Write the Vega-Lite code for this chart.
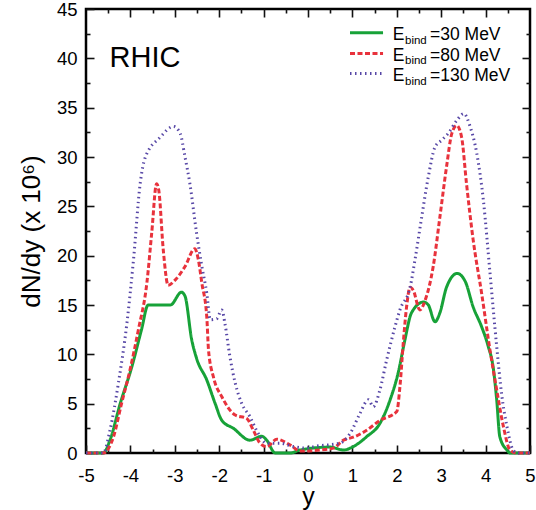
{
  "$schema": "https://vega.github.io/schema/vega-lite/v6.json",
  "width": 444,
  "height": 444,
  "autosize": {"type": "none"},
  "padding": {"left": 86, "top": 9, "right": 6, "bottom": 57},
  "config": {
    "view": {"stroke": "black", "strokeWidth": 2.5},
    "font": "Liberation Sans",
    "axis": {"grid": false, "domain": false, "labelColor": "black", "labelFont": "Liberation Sans", "titleFont": "Liberation Sans", "titleFontWeight": "normal", "titleColor": "black", "labelFlush": false, "labelOverlap": false}
  },
  "datasets": {
    "curves": [
      {"s": "30", "x": -5.0, "y": 0}, {"s": "30", "x": -4.61, "y": 0}, {"s": "30", "x": -4.46, "y": 1.3}, {"s": "30", "x": -4.23, "y": 5.0}, {"s": "30", "x": -3.97, "y": 8.7}, {"s": "30", "x": -3.75, "y": 12.5}, {"s": "30", "x": -3.6, "y": 15.0}, {"s": "30", "x": -3.37, "y": 15.0}, {"s": "30", "x": -3.1, "y": 15.0}, {"s": "30", "x": -2.85, "y": 16.3}, {"s": "30", "x": -2.77, "y": 15.9}, {"s": "30", "x": -2.62, "y": 11.5}, {"s": "30", "x": -2.51, "y": 9.6}, {"s": "30", "x": -2.28, "y": 7.4}, {"s": "30", "x": -2.09, "y": 5.0}, {"s": "30", "x": -1.94, "y": 3.3}, {"s": "30", "x": -1.68, "y": 2.5}, {"s": "30", "x": -1.31, "y": 1.3}, {"s": "30", "x": -1.04, "y": 1.7}, {"s": "30", "x": -0.93, "y": 1.3}, {"s": "30", "x": -0.74, "y": 0}, {"s": "30", "x": -0.4, "y": 0}, {"s": "30", "x": -0.18, "y": 0.3}, {"s": "30", "x": 0.5, "y": 0.6}, {"s": "30", "x": 0.8, "y": 0.3}, {"s": "30", "x": 1.02, "y": 0.65}, {"s": "30", "x": 1.32, "y": 1.65}, {"s": "30", "x": 1.62, "y": 3.0}, {"s": "30", "x": 1.85, "y": 5.4}, {"s": "30", "x": 2.03, "y": 8.1}, {"s": "30", "x": 2.18, "y": 11.4}, {"s": "30", "x": 2.33, "y": 14.2}, {"s": "30", "x": 2.6, "y": 15.3}, {"s": "30", "x": 2.71, "y": 15.0}, {"s": "30", "x": 2.86, "y": 13.3}, {"s": "30", "x": 2.97, "y": 14.2}, {"s": "30", "x": 3.12, "y": 16.8}, {"s": "30", "x": 3.36, "y": 18.2}, {"s": "30", "x": 3.54, "y": 17.4}, {"s": "30", "x": 3.72, "y": 14.8}, {"s": "30", "x": 3.91, "y": 12.8}, {"s": "30", "x": 4.06, "y": 10.8}, {"s": "30", "x": 4.17, "y": 8.7}, {"s": "30", "x": 4.25, "y": 5.4}, {"s": "30", "x": 4.32, "y": 1.65}, {"s": "30", "x": 4.48, "y": 0.3}, {"s": "30", "x": 4.55, "y": 0}, {"s": "30", "x": 5.0, "y": 0},

      {"s": "80", "x": -5.0, "y": 0}, {"s": "80", "x": -4.61, "y": 0}, {"s": "80", "x": -4.38, "y": 1.65}, {"s": "80", "x": -4.2, "y": 5.0}, {"s": "80", "x": -4.01, "y": 8.4}, {"s": "80", "x": -3.82, "y": 12.5}, {"s": "80", "x": -3.63, "y": 17.2}, {"s": "80", "x": -3.52, "y": 22.3}, {"s": "80", "x": -3.41, "y": 27.3}, {"s": "80", "x": -3.36, "y": 26.6}, {"s": "80", "x": -3.26, "y": 20.6}, {"s": "80", "x": -3.15, "y": 17.0}, {"s": "80", "x": -3.0, "y": 17.5}, {"s": "80", "x": -2.77, "y": 18.9}, {"s": "80", "x": -2.55, "y": 20.7}, {"s": "80", "x": -2.47, "y": 19.6}, {"s": "80", "x": -2.39, "y": 17.2}, {"s": "80", "x": -2.28, "y": 13.8}, {"s": "80", "x": -2.24, "y": 10.4}, {"s": "80", "x": -2.13, "y": 7.7}, {"s": "80", "x": -1.94, "y": 5.7}, {"s": "80", "x": -1.64, "y": 3.85}, {"s": "80", "x": -1.38, "y": 3.5}, {"s": "80", "x": -1.23, "y": 2.3}, {"s": "80", "x": -1.08, "y": 1.0}, {"s": "80", "x": -0.93, "y": 0.65}, {"s": "80", "x": -0.7, "y": 1.4}, {"s": "80", "x": -0.4, "y": 0.8}, {"s": "80", "x": -0.18, "y": 0.2}, {"s": "80", "x": 0.27, "y": 0.3}, {"s": "80", "x": 0.57, "y": 0.5}, {"s": "80", "x": 0.8, "y": 1.3}, {"s": "80", "x": 1.02, "y": 1.6}, {"s": "80", "x": 1.32, "y": 2.3}, {"s": "80", "x": 1.62, "y": 3.3}, {"s": "80", "x": 2.0, "y": 4.2}, {"s": "80", "x": 2.07, "y": 6.7}, {"s": "80", "x": 2.15, "y": 11.4}, {"s": "80", "x": 2.22, "y": 14.8}, {"s": "80", "x": 2.3, "y": 16.8}, {"s": "80", "x": 2.37, "y": 16.5}, {"s": "80", "x": 2.52, "y": 14.5}, {"s": "80", "x": 2.64, "y": 15.5}, {"s": "80", "x": 2.82, "y": 18.9}, {"s": "80", "x": 2.97, "y": 23.9}, {"s": "80", "x": 3.12, "y": 29.0}, {"s": "80", "x": 3.24, "y": 32.4}, {"s": "80", "x": 3.35, "y": 33.2}, {"s": "80", "x": 3.46, "y": 32.0}, {"s": "80", "x": 3.57, "y": 27.3}, {"s": "80", "x": 3.72, "y": 21.6}, {"s": "80", "x": 3.91, "y": 16.2}, {"s": "80", "x": 4.1, "y": 10.4}, {"s": "80", "x": 4.25, "y": 6.4}, {"s": "80", "x": 4.4, "y": 2.7}, {"s": "80", "x": 4.55, "y": 0.3}, {"s": "80", "x": 4.7, "y": 0}, {"s": "80", "x": 5.0, "y": 0},

      {"s": "130", "x": -5.0, "y": 0}, {"s": "130", "x": -4.61, "y": 0}, {"s": "130", "x": -4.46, "y": 2.3}, {"s": "130", "x": -4.27, "y": 7.1}, {"s": "130", "x": -4.08, "y": 13.1}, {"s": "130", "x": -3.93, "y": 19.6}, {"s": "130", "x": -3.78, "y": 27.3}, {"s": "130", "x": -3.67, "y": 29.9}, {"s": "130", "x": -3.33, "y": 32.0}, {"s": "130", "x": -3.03, "y": 33.1}, {"s": "130", "x": -2.88, "y": 32.4}, {"s": "130", "x": -2.77, "y": 30.0}, {"s": "130", "x": -2.66, "y": 27.3}, {"s": "130", "x": -2.51, "y": 22.3}, {"s": "130", "x": -2.39, "y": 18.9}, {"s": "130", "x": -2.28, "y": 16.2}, {"s": "130", "x": -2.2, "y": 13.5}, {"s": "130", "x": -2.06, "y": 13.6}, {"s": "130", "x": -1.94, "y": 14.5}, {"s": "130", "x": -1.87, "y": 13.1}, {"s": "130", "x": -1.76, "y": 9.8}, {"s": "130", "x": -1.64, "y": 7.1}, {"s": "130", "x": -1.49, "y": 5.0}, {"s": "130", "x": -1.31, "y": 3.7}, {"s": "130", "x": -1.16, "y": 2.3}, {"s": "130", "x": -0.93, "y": 1.0}, {"s": "130", "x": -0.63, "y": 1.0}, {"s": "130", "x": -0.33, "y": 0.65}, {"s": "130", "x": -0.05, "y": 0.5}, {"s": "130", "x": 0.2, "y": 0.7}, {"s": "130", "x": 0.72, "y": 1.0}, {"s": "130", "x": 0.95, "y": 2.0}, {"s": "130", "x": 1.17, "y": 4.0}, {"s": "130", "x": 1.36, "y": 5.4}, {"s": "130", "x": 1.47, "y": 4.7}, {"s": "130", "x": 1.62, "y": 6.4}, {"s": "130", "x": 1.77, "y": 9.4}, {"s": "130", "x": 1.96, "y": 12.8}, {"s": "130", "x": 2.07, "y": 14.5}, {"s": "130", "x": 2.3, "y": 16.8}, {"s": "130", "x": 2.41, "y": 19.6}, {"s": "130", "x": 2.56, "y": 23.9}, {"s": "130", "x": 2.71, "y": 28.0}, {"s": "130", "x": 2.86, "y": 31.0}, {"s": "130", "x": 3.01, "y": 31.7}, {"s": "130", "x": 3.16, "y": 32.4}, {"s": "130", "x": 3.35, "y": 33.7}, {"s": "130", "x": 3.51, "y": 34.4}, {"s": "130", "x": 3.65, "y": 33.1}, {"s": "130", "x": 3.8, "y": 30.4}, {"s": "130", "x": 3.95, "y": 25.6}, {"s": "130", "x": 4.1, "y": 18.2}, {"s": "130", "x": 4.25, "y": 10.8}, {"s": "130", "x": 4.36, "y": 6.0}, {"s": "130", "x": 4.48, "y": 2.7}, {"s": "130", "x": 4.62, "y": 0.3}, {"s": "130", "x": 4.73, "y": 0}, {"s": "130", "x": 5.0, "y": 0}
    ],
    "legend": [
      {"s": "30", "x": 0.946, "x2": 1.69, "y": 42.6, "ty": 41.84, "lab": "=30 MeV"},
      {"s": "80", "x": 0.946, "x2": 1.69, "y": 40.5, "ty": 39.75, "lab": "=80 MeV"},
      {"s": "130", "x": 0.946, "x2": 1.69, "y": 38.47, "ty": 37.69, "lab": "=130 MeV"}
    ],
    "label": [
      {"t": "RHIC", "x": -4.47, "y": 39.14}
    ]
  },
  "layer": [
    {
      "data": {"name": "curves"},
      "mark": {"type": "line", "interpolate": "monotone", "strokeCap": "butt"},
      "encoding": {
        "x": {"field": "x", "type": "quantitative", "scale": {"domain": [-5, 5], "nice": false, "zero": false},
          "axis": {"orient": "bottom", "values": [-5, -4, -3, -2, -1, 0, 1, 2, 3, 4, 5], "tickColor": "#111111", "tickWidth": 1.6, "tickSize": -8,
            "labelExpr": "'' + datum.value", "labelFontSize": 18.5, "labelPadding": 21,
            "title": "y", "titleFontSize": 25, "titlePadding": 0}},
        "y": {"field": "y", "type": "quantitative", "scale": {"domain": [0, 45], "nice": false},
          "axis": {"orient": "left", "values": [0, 5, 10, 15, 20, 25, 30, 35, 40, 45], "tickColor": "#111111", "tickWidth": 1.6, "tickSize": -8,
            "labelExpr": "'' + datum.value", "labelFontSize": 18.5, "labelPadding": 17,
            "title": "dN/dy   (x 10⁶)", "titleFontSize": 26, "titlePadding": 12}},
        "color": {"field": "s", "type": "nominal", "scale": {"domain": ["30", "80", "130"], "range": ["#17a238", "#e8323c", "#5747a6"]}, "legend": null},
        "strokeDash": {"field": "s", "type": "nominal", "scale": {"domain": ["30", "80", "130"], "range": [[1, 0], [5, 2.5], [1.5, 3.5]]}, "legend": null},
        "strokeWidth": {"field": "s", "type": "nominal", "scale": {"domain": ["30", "80", "130"], "range": [3, 3, 1.6]}, "legend": null}
      }
    },
    {
      "data": {"name": "curves"},
      "mark": {"type": "line", "strokeOpacity": 0},
      "encoding": {
        "x": {"field": "x", "type": "quantitative", "scale": {"domain": [-5, 5], "nice": false, "zero": false},
          "axis": {"orient": "top", "offset": -8, "values": [-4, -3, -2, -1, 0, 1, 2, 3, 4], "tickColor": "#111111", "tickSize": 8, "tickWidth": 1.6, "labels": false, "title": null}},
        "y": {"field": "y", "type": "quantitative", "scale": {"domain": [0, 45], "nice": false},
          "axis": {"orient": "right", "offset": -8, "values": [5, 10, 15, 20, 25, 30, 35, 40], "tickColor": "#111111", "tickSize": 8, "tickWidth": 1.6, "labels": false, "title": null}}
      }
    },
    {
      "data": {"name": "curves"},
      "mark": {"type": "line", "strokeOpacity": 0},
      "encoding": {
        "x": {"field": "x", "type": "quantitative", "scale": {"domain": [-5, 5], "nice": false, "zero": false},
          "axis": {"orient": "top", "offset": -4, "values": [-4.5, -3.5, -2.5, -1.5, -0.5, 0.5, 1.5, 2.5, 3.5, 4.5], "tickColor": "#111111", "tickSize": 4, "tickWidth": 1.6, "labels": false, "title": null}},
        "y": {"field": "y", "type": "quantitative", "scale": {"domain": [0, 45], "nice": false},
          "axis": {"orient": "right", "offset": -4, "values": [2.5, 7.5, 12.5, 17.5, 22.5, 27.5, 32.5, 37.5, 42.5], "tickColor": "#111111", "tickSize": 4, "tickWidth": 1.6, "labels": false, "title": null}}
      }
    },
    {
      "data": {"name": "curves"},
      "mark": {"type": "line", "strokeOpacity": 0},
      "encoding": {
        "x": {"field": "x", "type": "quantitative", "scale": {"domain": [-5, 5], "nice": false, "zero": false},
          "axis": {"orient": "bottom", "offset": -4, "values": [-4.5, -3.5, -2.5, -1.5, -0.5, 0.5, 1.5, 2.5, 3.5, 4.5], "tickColor": "#111111", "tickSize": 4, "tickWidth": 1.6, "labels": false, "title": null}},
        "y": {"field": "y", "type": "quantitative", "scale": {"domain": [0, 45], "nice": false},
          "axis": {"orient": "left", "offset": -4, "values": [2.5, 7.5, 12.5, 17.5, 22.5, 27.5, 32.5, 37.5, 42.5], "tickColor": "#111111", "tickSize": 4, "tickWidth": 1.6, "labels": false, "title": null}}
      }
    },
    {
      "data": {"name": "legend"},
      "mark": {"type": "rule", "strokeCap": "butt"},
      "encoding": {
        "x": {"field": "x", "type": "quantitative", "scale": {"domain": [-5, 5], "nice": false, "zero": false}, "axis": null},
        "x2": {"field": "x2"},
        "y": {"field": "y", "type": "quantitative", "scale": {"domain": [0, 45], "nice": false}, "axis": null},
        "color": {"field": "s", "type": "nominal", "legend": null},
        "strokeDash": {"field": "s", "type": "nominal", "legend": null},
        "strokeWidth": {"field": "s", "type": "nominal", "legend": null}
      }
    },
    {
      "data": {"name": "legend"},
      "mark": {"type": "text", "text": "E", "align": "left", "baseline": "alphabetic", "fontSize": 17.5, "color": "black"},
      "encoding": {
        "x": {"datum": 1.908, "type": "quantitative", "scale": {"domain": [-5, 5], "nice": false, "zero": false}, "axis": null},
        "y": {"field": "ty", "type": "quantitative", "scale": {"domain": [0, 45], "nice": false}, "axis": null}
      }
    },
    {
      "data": {"name": "legend"},
      "mark": {"type": "text", "text": "bind", "align": "left", "baseline": "alphabetic", "fontSize": 11.5, "dy": 3.5, "color": "black"},
      "encoding": {
        "x": {"datum": 2.185, "type": "quantitative", "scale": {"domain": [-5, 5], "nice": false, "zero": false}, "axis": null},
        "y": {"field": "ty", "type": "quantitative", "scale": {"domain": [0, 45], "nice": false}, "axis": null}
      }
    },
    {
      "data": {"name": "legend"},
      "mark": {"type": "text", "align": "left", "baseline": "alphabetic", "fontSize": 17.5, "color": "black"},
      "encoding": {
        "x": {"datum": 2.748, "type": "quantitative", "scale": {"domain": [-5, 5], "nice": false, "zero": false}, "axis": null},
        "y": {"field": "ty", "type": "quantitative", "scale": {"domain": [0, 45], "nice": false}, "axis": null},
        "text": {"field": "lab"}
      }
    },
    {
      "data": {"name": "label"},
      "mark": {"type": "text", "align": "left", "baseline": "alphabetic", "fontSize": 29, "color": "black"},
      "encoding": {
        "x": {"field": "x", "type": "quantitative", "scale": {"domain": [-5, 5], "nice": false, "zero": false}, "axis": null},
        "y": {"field": "y", "type": "quantitative", "scale": {"domain": [0, 45], "nice": false}, "axis": null},
        "text": {"field": "t"}
      }
    }
  ],
  "resolve": {"scale": {"x": "independent", "y": "independent"}, "axis": {"x": "independent", "y": "independent"}}
}
